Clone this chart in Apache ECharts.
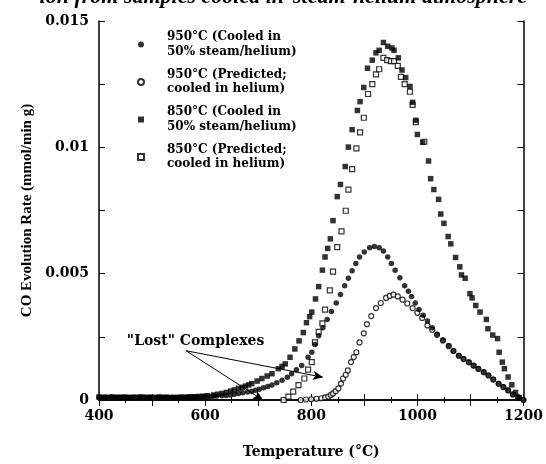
<!DOCTYPE html>
<html>
<head>
<meta charset="utf-8">
<script src="https://cdn.jsdelivr.net/npm/echarts@6/dist/echarts.min.js"></script>
<style>
html,body{margin:0;padding:0;background:#fff;}
#c{width:546px;height:464px;}
</style>
</head>
<body>
<div id="c"></div>
<script>
// ---- data ----
const seriesNames = [
  '950°C (Cooled in\n50% steam/helium)',
  '950°C (Predicted;\ncooled in helium)',
  '850°C (Cooled in\n50% steam/helium)',
  '850°C (Predicted;\ncooled in helium)'
];
const xTickLabels = ['400', '600', '800', '1000', '1200'];
const yTickLabels = ['0', '0.005', '0.01', '0.015'];

// 950°C cooled in 50% steam/helium (filled circles)
const t950s = [400,406,412,418,424,430,436,442,448,454,460,466,472,478,484,490,496,502,508,514,520,526,532,538,544,550,556,562,568,574,580,586,592,598,604,610,616,622,632,640,648,655,663,671,680,688,695,702,710,718,726,735,745,755,763,772,782,794,801,807,814,822,830,838,847,855,863,870,877,884,891,900,910,919,928,936,944,951,958,967,976,983,989,996,1003,1011,1019,1028,1037,1048,1059,1068,1078,1087,1097,1106,1115,1125,1134,1143,1153,1162,1171,1180,1190,1200];
const v950s = [0.0001,0.00008,0.0001,0.00009,0.00011,0.0001,0.00008,0.0001,0.00009,0.0001,0.00008,0.0001,0.00009,0.0001,0.0001,0.00008,0.0001,0.00009,0.0001,0.0001,0.00009,0.0001,0.0001,0.00011,0.0001,0.0001,0.00011,0.0001,0.00011,0.00012,0.00012,0.00012,0.00013,0.00013,0.00014,0.00014,0.00015,0.00016,0.00017,0.00018,0.0002,0.00023,0.00026,0.00029,0.00032,0.00035,0.00039,0.00043,0.00048,0.00053,0.00059,0.00068,0.00078,0.0009,0.00104,0.0012,0.00137,0.00169,0.00189,0.0022,0.00254,0.00286,0.00319,0.0035,0.00384,0.00418,0.00452,0.00482,0.00512,0.0054,0.00566,0.00586,0.00603,0.00608,0.00603,0.0059,0.00566,0.0054,0.00514,0.00484,0.00452,0.0043,0.0041,0.00384,0.00358,0.00335,0.00313,0.00286,0.0026,0.00237,0.00215,0.00195,0.00176,0.00163,0.0015,0.00137,0.00124,0.00111,0.00098,0.00082,0.00065,0.00052,0.00039,0.00022,0.0001,0];

// 950°C predicted, cooled in helium (open circles)
const t950p = [780,790,800,810,819,826,832,837,841,846,851,856,860,865,869,875,880,885,891,899,905,913,922,931,941,948,955,963,972,981,991,1000,1009,1019,1028,1037,1048,1059,1068,1078,1087,1097,1106,1115,1125,1134,1143,1153,1162,1171,1180,1190,1200];
const v950p = [0,0.00002,0.00003,0.00005,0.00007,0.0001,0.00013,0.0002,0.00026,0.00035,0.00046,0.00065,0.00085,0.001,0.00117,0.0015,0.0017,0.00189,0.00228,0.00264,0.003,0.00332,0.00364,0.00384,0.00404,0.00412,0.00417,0.0041,0.00397,0.00382,0.00364,0.00345,0.00325,0.00295,0.00278,0.00258,0.00235,0.00213,0.00194,0.00175,0.00162,0.00149,0.00136,0.00123,0.0011,0.00097,0.00081,0.00064,0.00051,0.00038,0.00022,0.0001,0];

// 850°C cooled in 50% steam/helium (filled squares)
const t850s = [400,406,412,418,424,430,436,442,448,454,460,466,472,478,484,490,496,502,508,514,520,526,532,538,544,550,556,562,568,574,580,588,596,604,616,624,632,640,648,655,663,670,676,682,688,698,707,717,726,738,745,751,760,769,777,785,791,797,801,808,814,821,826,831,836,841,849,855,864,870,877,887,892,899,906,915,922,928,936,944,952,956,964,971,978,986,991,997,1000,1010,1021,1025,1031,1040,1044,1050,1058,1063,1072,1080,1083,1090,1099,1103,1110,1118,1130,1133,1142,1151,1154,1160,1164,1171,1178,1185,1192];
const v850s = [0.00012,0.0001,0.00011,0.0001,0.00012,0.0001,0.00011,0.0001,0.00012,0.0001,0.0001,0.00011,0.0001,0.00012,0.00011,0.0001,0.00011,0.0001,0.0001,0.00012,0.0001,0.00011,0.0001,0.00009,0.0001,0.0001,0.00011,0.0001,0.00012,0.00012,0.00013,0.00014,0.00015,0.00017,0.0002,0.00023,0.00026,0.0003,0.00035,0.0004,0.00046,0.0005,0.00055,0.0006,0.00065,0.00075,0.00085,0.00095,0.00104,0.00124,0.00133,0.00143,0.00169,0.00202,0.00234,0.00267,0.00306,0.0033,0.00348,0.004,0.00449,0.00514,0.00566,0.006,0.00638,0.0071,0.00805,0.00853,0.00924,0.01001,0.0107,0.01146,0.01181,0.01237,0.01313,0.01345,0.01374,0.01384,0.01415,0.014,0.01393,0.01384,0.01354,0.01306,0.01276,0.01241,0.01178,0.01107,0.01051,0.0102,0.00946,0.00876,0.00833,0.00794,0.00736,0.00699,0.00647,0.00618,0.00564,0.00527,0.00495,0.00482,0.00421,0.00404,0.00374,0.00348,0.00319,0.00282,0.00257,0.00243,0.00189,0.0015,0.00124,0.00091,0.0006,0.0003,0.0001];

// 850°C predicted, cooled in helium (open squares)
const t850p = [748,757,766,776,787,794,801,807,814,821,826,835,841,849,857,865,870,877,885,892,899,907,915,922,928,936,943,950,956,963,969,976,986,991,997,1013];
const v850p = [0,0.00013,0.00033,0.00059,0.00085,0.0012,0.0015,0.00228,0.0027,0.00303,0.00358,0.00434,0.00508,0.00605,0.00667,0.00749,0.00833,0.00914,0.00996,0.01059,0.01117,0.01211,0.0125,0.01289,0.01309,0.01354,0.01345,0.01341,0.01341,0.01322,0.01279,0.0125,0.0122,0.01168,0.011,0.01022];

// "Lost" complexes annotation (data coordinates)
const arrowStart = [564, 0.00195];
const arrowEnds = [[822, 0.0009], [709, 0.0]];
const noteText = '"Lost" Complexes';
const notePos = [582, 0.00234];
const captionLeft = 'ion from samples cooled in';
const captionRight = 'steam-helium atmosphere';

// ---- chart ----
const zip = (t, v) => t.map((x, i) => [x, v[i]]);
const tickFont = 'DejaVu Serif';
const chart = echarts.init(document.getElementById('c'), null, {renderer: 'canvas'});

const axisCommon = {
  axisLine: {show: true, lineStyle: {color: '#000', width: 1.5}},
  axisTick: {show: true, inside: true, length: 6, lineStyle: {color: '#000', width: 1}},
  minorTick: {show: true, splitNumber: 2, length: 3, lineStyle: {color: '#000', width: 1}},
  splitLine: {show: false}
};

const openStyle = {color: '#fff', borderColor: '#000', borderWidth: 1.2};
const fillStyle = {color: '#000'};
const capFont = 'italic bold 22px "Liberation Serif"';

chart.setOption({
  animation: false,
  backgroundColor: '#fff',
  grid: {left: 99, right: 19, top: 21, bottom: 57, containLabel: false},
  graphic: [
    {type: 'text', right: 262, top: -14, style: {text: captionLeft, font: capFont, fill: '#000'}},
    {type: 'text', left: 293, top: -14, style: {text: captionRight, font: capFont, fill: '#000'}}
  ],
  legend: {
    orient: 'vertical', left: 137, top: 26, padding: 0,
    itemGap: 0.5, itemWidth: 6, itemHeight: 6,
    data: seriesNames,
    selectedMode: false,
    textStyle: {fontFamily: tickFont, fontWeight: 'bold', fontSize: 12, lineHeight: 14.5, color: '#000', padding: [8, 0, 0, 18]}
  },
  xAxis: [
    Object.assign({}, axisCommon, {
      type: 'value', min: 400, max: 1200, interval: 100, position: 'bottom',
      name: 'Temperature (°C)', nameLocation: 'middle', nameGap: 45,
      nameTextStyle: {fontFamily: tickFont, fontWeight: 'bold', fontSize: 14, color: '#000'},
      axisLabel: {
        margin: 9, color: '#000', fontFamily: tickFont, fontWeight: 'bold', fontSize: 14,
        showMinLabel: true, showMaxLabel: true,
        formatter: v => {
          const i = xTickLabels.indexOf(String(v));
          return i >= 0 ? xTickLabels[i] : '';
        }
      }
    }),
    Object.assign({}, axisCommon, {
      type: 'value', min: 400, max: 1200, interval: 100, position: 'top',
      axisLabel: {show: false}
    })
  ],
  yAxis: [
    Object.assign({}, axisCommon, {
      type: 'value', min: 0, max: 0.015, interval: 0.0025, position: 'left',
      minorTick: {show: false},
      name: 'CO Evolution Rate (mmol/min g)', nameLocation: 'middle', nameGap: 57,
      nameTextStyle: {fontFamily: 'Liberation Serif', fontWeight: 'bold', fontSize: 15, color: '#000'},
      axisLabel: {
        margin: 10, color: '#000', fontFamily: tickFont, fontWeight: 'bold', fontSize: 14,
        showMinLabel: true, showMaxLabel: true,
        formatter: v => {
          const k = Math.round(v / 0.005);
          return Math.abs(v - k * 0.005) < 1e-9 ? yTickLabels[k] : '';
        }
      }
    }),
    Object.assign({}, axisCommon, {
      type: 'value', min: 0, max: 0.015, interval: 0.0025, position: 'right',
      minorTick: {show: false},
      axisLabel: {show: false}
    })
  ],
  series: [
    {
      name: seriesNames[1], type: 'scatter', symbol: 'circle', symbolSize: 5,
      itemStyle: openStyle, data: zip(t950p, v950p), z: 2
    },
    {
      name: seriesNames[3], type: 'scatter', symbol: 'rect', symbolSize: 5,
      itemStyle: openStyle, data: zip(t850p, v850p), z: 2
    },
    {
      name: seriesNames[0], type: 'scatter', symbol: 'circle', symbolSize: 5.5,
      itemStyle: fillStyle, data: zip(t950s, v950s), z: 3,
      markLine: {
        silent: true, symbol: ['none', 'arrow'], symbolSize: [7, 10],
        label: {show: false},
        lineStyle: {color: '#000', width: 1, type: 'solid'},
        data: arrowEnds.map(e => [{coord: arrowStart}, {coord: e}])
      },
      markPoint: {
        silent: true, symbol: 'rect', symbolSize: 1,
        itemStyle: {color: 'rgba(0,0,0,0)'},
        label: {show: true, position: 'inside', formatter: noteText, color: '#000',
                fontFamily: tickFont, fontWeight: 'bold', fontSize: 14},
        data: [{coord: notePos}]
      }
    },
    {
      name: seriesNames[2], type: 'scatter', symbol: 'rect', symbolSize: 5.5,
      itemStyle: fillStyle, data: zip(t850s, v850s), z: 3
    }
  ]
});
</script>
</body>
</html>
